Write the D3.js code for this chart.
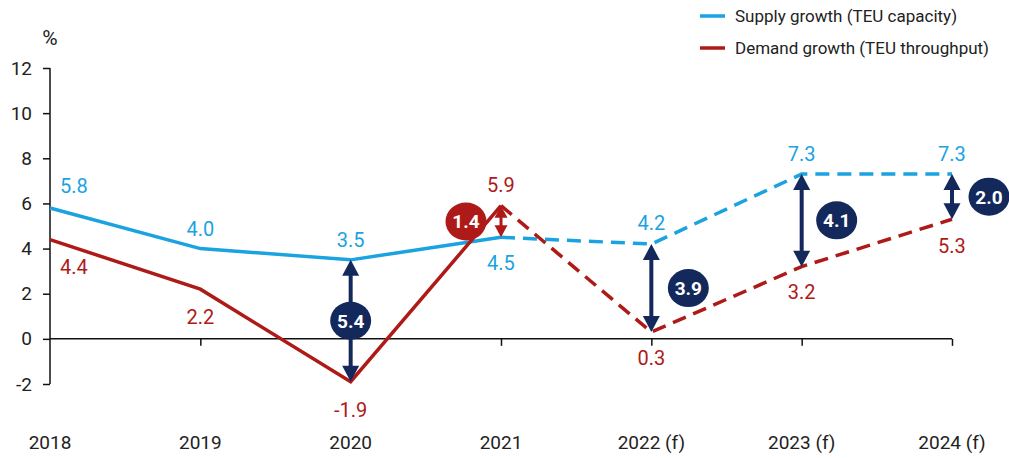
<!DOCTYPE html>
<html>
<head>
<meta charset="utf-8">
<script src="https://cdn.jsdelivr.net/npm/d3@7"></script>
<style>
  body { margin: 0; background: #fff; }
  svg text { font-family: Roboto, "Noto Sans", sans-serif; }
</style>
</head>
<body>
<div id="chart"></div>
<script>
// years along the bottom
var years = ["2018", "2019", "2020", "2021", "2022 (f)", "2023 (f)", "2024 (f)"]
// supply growth (TEU capacity), %
var supply = [5.8, 4.0, 3.5, 4.5, 4.2, 7.3, 7.3]
// demand growth (TEU throughput), %
var demand = [4.4, 2.2, -1.9, 5.9, 0.3, 3.2, 5.3]
// last actual index (dashed from here on)
var lastActual = 3
// years where the gap is marked
var gapYears = [2, 3, 4, 5, 6]
var yTicks = [-2, 0, 2, 4, 6, 8, 10, 12]

var blue = "#1aa3e0", red = "#ae1a17", navy = "#13295b"

var W = 1009, H = 458
var svg = d3.select("#chart").append("svg").attr("width", W).attr("height", H)

var x = d3.scalePoint().domain(years).range([50, 952])
var y = d3.scaleLinear().domain([-2, 12]).range([384, 68])

// y axis
var yAxis = svg.append("g").attr("transform", "translate(50,0)")
  .call(d3.axisLeft(y).tickValues(yTicks).tickSize(7).tickPadding(11).tickFormat(function(d) { return String(d) }))
yAxis.select(".domain").attr("stroke", "#111").attr("stroke-width", 1.5).attr("d", "M0," + y(12) + "V" + y(-2))
yAxis.selectAll(".tick line").attr("stroke", "#111").attr("stroke-width", 1.5)
yAxis.selectAll(".tick text").attr("fill", "#222").style("font-size", "19px")

svg.append("text").attr("x", 50).attr("y", 45).attr("text-anchor", "middle")
  .attr("fill", "#222").style("font-size", "21px").text("%")

// x axis on zero line
var xAxis = svg.append("g").attr("transform", "translate(0," + y(0) + ")")
  .call(d3.axisBottom(x).tickSize(7).tickFormat(""))
xAxis.select(".domain").attr("stroke", "#111").attr("stroke-width", 1.5).attr("d", "M50,0H952")
xAxis.selectAll(".tick line").attr("stroke", "#111").attr("stroke-width", 1.5)
  .filter(function(d) { return d == years[0] }).remove()

svg.selectAll(".xlab").data(years).enter().append("text")
  .attr("class", "xlab")
  .attr("x", function(d) { return x(d) })
  .attr("y", 449)
  .attr("text-anchor", "middle")
  .attr("fill", "#222").style("font-size", "19px")
  .text(function(d) { return d })

// lines, solid for actuals and dashed for forecasts
var line = d3.line()
  .x(function(d) { return x(years[d.i]) })
  .y(function(d) { return y(d.v) })

function drawSeries(vals, col) {
  var pts = vals.map(function(v, i) { return { i: i, v: v } })
  svg.append("path").datum(pts.slice(0, lastActual + 1))
    .attr("d", line).attr("fill", "none").attr("stroke", col).attr("stroke-width", 3.5)
  svg.append("path").datum(pts.slice(lastActual))
    .attr("d", line).attr("fill", "none").attr("stroke", col).attr("stroke-width", 3.5)
    .attr("stroke-dasharray", "14,8")
}
drawSeries(supply, blue)
drawSeries(demand, red)

// value labels
var supplyDy = [-15, -13, -13, 33, -14, -13, -13]
var demandDy = [34, 35, 35, -14, 33, 32, 34]
var labelDx = [24, 0, 0, 0, 0, 0, 0]

function drawLabels(vals, dys, col) {
  svg.selectAll(null).data(vals).enter().append("text")
    .attr("x", function(d, i) { return x(years[i]) + labelDx[i] })
    .attr("y", function(d, i) { return y(d) + dys[i] })
    .attr("text-anchor", "middle")
    .attr("fill", col)
    .attr("stroke", "#fff").attr("stroke-width", 5).attr("paint-order", "stroke")
    .style("font-size", "20px")
    .text(function(d) { return d.toFixed(1) })
}
drawLabels(supply, supplyDy, blue)
drawLabels(demand, demandDy, red)

// gap arrows and badges
var badgeDx = [0, -35, 37, 35, 37]

gapYears.forEach(function(i, k) {
  var top = Math.max(supply[i], demand[i]), bot = Math.min(supply[i], demand[i])
  var col = demand[i] > supply[i] ? red : navy
  var cx = x(years[i])
  var y0 = y(top), y1 = y(bot)
  var small = (y1 - y0) < 40
  var hw = small ? 6.5 : 8.5, hh = small ? 12 : 16

  svg.append("line").attr("x1", cx).attr("x2", cx)
    .attr("y1", y0 + hh - 1).attr("y2", y1 - hh + 1)
    .attr("stroke", col).attr("stroke-width", small ? 3 : 4)
  svg.append("path")
    .attr("d", "M" + cx + "," + y0 + "L" + (cx - hw) + "," + (y0 + hh) + "L" + (cx + hw) + "," + (y0 + hh) + "Z")
    .attr("fill", col)
  svg.append("path")
    .attr("d", "M" + cx + "," + y1 + "L" + (cx - hw) + "," + (y1 - hh) + "L" + (cx + hw) + "," + (y1 - hh) + "Z")
    .attr("fill", col)

  var bx = cx + badgeDx[k], by = (y0 + y1) / 2
  svg.append("ellipse").attr("cx", bx).attr("cy", by).attr("rx", 20.5).attr("ry", 19)
    .attr("fill", col)
  svg.append("text").attr("x", bx).attr("y", by + 7)
    .attr("text-anchor", "middle").attr("fill", "#fff")
    .style("font-size", "19px").style("font-weight", "bold")
    .text((top - bot).toFixed(1))
})

// legend
var legend = [
  { name: "Supply growth (TEU capacity)", col: blue },
  { name: "Demand growth (TEU throughput)", col: red }
]
var lg = svg.selectAll(".lg").data(legend).enter().append("g")
  .attr("transform", function(d, i) { return "translate(700," + (16 + i * 32) + ")" })
lg.append("line").attr("x1", 0).attr("x2", 25).attr("stroke", function(d) { return d.col }).attr("stroke-width", 3.5)
lg.append("text").attr("x", 35).attr("y", 6).attr("fill", "#222").style("font-size", "17px")
  .text(function(d) { return d.name })
</script>
</body>
</html>
